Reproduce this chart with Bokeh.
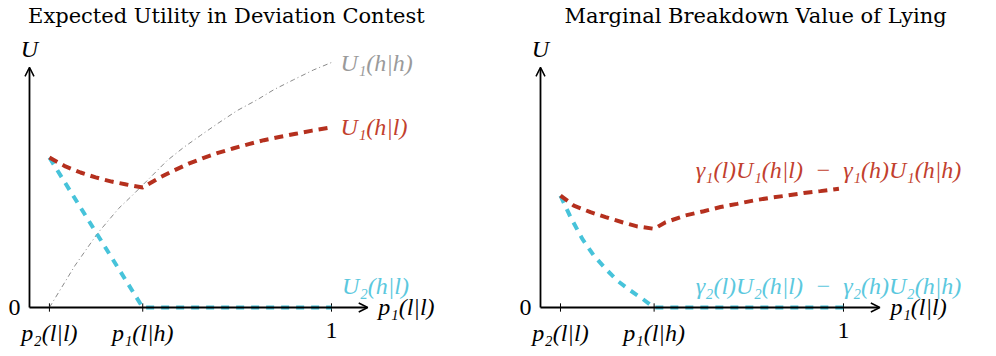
from bokeh.plotting import figure
from bokeh.models import Range1d, Arrow, OpenHead, Label
from bokeh.layouts import row
from bokeh.core.properties import value
from bokeh.embed import file_html
from bokeh.resources import INLINE

# ---------------- data ----------------
p2_ll = 0.066   # p2(l|l)
p1_lh = 0.375   # p1(l|h)
tick_x = [p2_ll, p1_lh, 1.0]
tick_labels = ["p₂(l|l)", "p₁(l|h)", "1"]

# Left panel: Expected Utility in Deviation Contest
u1hh_x = [0.066, 0.15, 0.225, 0.295, 0.340, 0.401, 0.456, 0.511, 0.566, 0.622,
          0.688, 0.754, 0.809, 0.875, 0.941, 1.0]
u1hh_y = [0.0, 0.17, 0.302, 0.404, 0.457, 0.532, 0.600, 0.654, 0.702, 0.750,
          0.804, 0.848, 0.889, 0.930, 0.970, 1.0]

u1hl_x = [0.066, 0.119, 0.169, 0.219, 0.272, 0.321, 0.375, 0.434, 0.478, 0.527, 0.577,
          0.627, 0.676, 0.726, 0.776, 0.831, 0.886, 0.936, 1.0]
u1hl_y = [0.612, 0.576, 0.551, 0.531, 0.514, 0.502, 0.490, 0.532, 0.559, 0.587, 0.611,
          0.632, 0.650, 0.667, 0.683, 0.697, 0.710, 0.722, 0.735]

u2hl_x = [0.066, 0.375, 1.0]
u2hl_y = [0.612, 0.0, 0.0]

# Right panel: Marginal Breakdown Value of Lying
m1_x = [0.066, 0.110, 0.165, 0.215, 0.270, 0.319, 0.375, 0.413, 0.479, 0.539, 0.594,
        0.649, 0.704, 0.759, 0.814, 0.869, 0.924, 0.985]
m1_y = [0.457, 0.416, 0.389, 0.369, 0.348, 0.331, 0.321, 0.348, 0.376, 0.393, 0.410,
        0.423, 0.437, 0.448, 0.457, 0.467, 0.475, 0.485]

m2_x = [0.066, 0.099, 0.138, 0.176, 0.215, 0.253, 0.297, 0.336, 0.375, 1.0]
m2_y = [0.457, 0.369, 0.280, 0.212, 0.158, 0.110, 0.069, 0.036, 0.0, 0.0]

# ---------------- style ----------------
RED = "#B5301E"
RED_T = "#C23F2E"
CYAN = "#47C3DA"
CYAN_T = "#5BC8DE"
GRAY = "#8A8A8A"
GRAY_T = "#9A9A9A"
TITLE_FONT = "DejaVu Serif"
MATH = "Liberation Serif"
MS = "24px"
W, H = 496, 352
Y_RANGE = (-0.1837, 1.2531)


def base_fig(x0, x1):
    p = figure(width=W, height=H, x_range=Range1d(x0, x1), y_range=Range1d(*Y_RANGE),
               output_backend="svg", toolbar_location=None, min_border=0,
               x_axis_location=None, y_axis_location=None)
    p.grid.visible = False
    p.outline_line_color = None
    p.title.visible = False
    # axes with arrows
    p.add_layout(Arrow(end=OpenHead(size=9, line_width=1.5, line_color="black"),
                       x_start=0, y_start=0, x_end=1.12, y_end=0,
                       line_width=1.8, line_color="black"))
    p.add_layout(Arrow(end=OpenHead(size=9, line_width=1.5, line_color="black"),
                       x_start=0, y_start=0, x_end=0, y_end=0.98,
                       line_width=1.8, line_color="black"))
    # ticks
    p.segment(x0=tick_x, y0=[-0.017] * 3, x1=tick_x, y1=[0.017] * 3,
              line_color="black", line_width=1)
    p.text(x=tick_x[:2], y=[-0.105] * 2, text=tick_labels[:2],
           text_font=value(MATH), text_font_style="italic", text_font_size=MS,
           text_align="center", text_baseline="middle", text_color="black")
    p.text(x=tick_x[2:], y=[-0.093], text=tick_labels[2:],
           text_font=value(MATH), text_font_size=MS,
           text_align="center", text_baseline="middle", text_color="black")
    p.add_layout(Label(x=-0.03, y=0.0, text="0", text_font=MATH, text_font_size=MS,
                       text_align="right", text_baseline="middle", text_color="black"))
    p.add_layout(Label(x=1.155, y=0.0, text="p₁(l|l)", text_font=MATH, text_font_style="italic",
                       text_font_size=MS, text_align="left", text_baseline="middle",
                       text_color="black"))
    p.add_layout(Label(x=0.0, y=1.057, text="U", text_font=MATH, text_font_style="italic",
                       text_font_size=MS, text_align="center", text_baseline="middle",
                       text_color="black"))
    return p


# ---------------- left ----------------
pl = base_fig(-0.096, 1.5464)
pl.add_layout(Label(x=0.652, y=1.188, text="Expected Utility in Deviation Contest",
                    text_font=TITLE_FONT, text_font_size="21px", text_align="center",
                    text_baseline="middle", text_color="black"))
pl.line(u1hh_x, u1hh_y, line_color=GRAY, line_width=1, line_dash="5 3 1 3")
pl.line(u2hl_x, u2hl_y, line_color=CYAN, line_width=4, line_dash="8 7")
pl.line(u1hl_x, u1hl_y, line_color=RED, line_width=4, line_dash="9 6")
pl.add_layout(Label(x=1.03, y=0.996, text="U₁(h|h)", text_font=MATH, text_font_style="italic",
                    text_font_size=MS, text_align="left", text_baseline="middle",
                    text_color=GRAY_T))
pl.add_layout(Label(x=1.03, y=0.735, text="U₁(h|l)", text_font=MATH, text_font_style="italic",
                    text_font_size=MS, text_align="left", text_baseline="middle",
                    text_color=RED_T))
pl.add_layout(Label(x=1.035, y=0.086, text="U₂(h|l)", text_font=MATH, text_font_style="italic",
                    text_font_size=MS, text_align="left", text_baseline="middle",
                    text_color=CYAN_T))

# ---------------- right ----------------
pr = base_fig(-0.1452, 1.4918)
pr.add_layout(Label(x=0.710, y=1.188, text="Marginal Breakdown Value of Lying",
                    text_font=TITLE_FONT, text_font_size="21px", text_align="center",
                    text_baseline="middle", text_color="black"))
pr.line(m2_x, m2_y, line_color=CYAN, line_width=4, line_dash="8 7")
pr.line(m1_x, m1_y, line_color=RED, line_width=4, line_dash="9 6")
pr.add_layout(Label(x=0.512, y=0.563, text="γ₁(l)U₁(h|l)\u2002−\u2002γ₁(h)U₁(h|h)", text_font=MATH,
                    text_font_style="italic", text_font_size=MS, text_align="left",
                    text_baseline="middle", text_color=RED_T))
pr.add_layout(Label(x=0.512, y=0.086, text="γ₂(l)U₂(h|l)\u2002−\u2002γ₂(h)U₂(h|h)", text_font=MATH,
                    text_font_style="italic", text_font_size=MS, text_align="left",
                    text_baseline="middle", text_color=CYAN_T))

layout = row(pl, pr, spacing=0)
open("out.html", "w").write(file_html(layout, INLINE))
